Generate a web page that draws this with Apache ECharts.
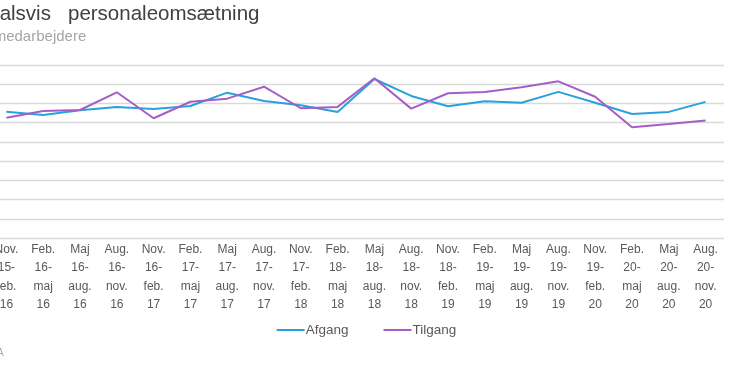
<!DOCTYPE html>
<html>
<head>
<meta charset="utf-8">
<script src="https://cdn.jsdelivr.net/npm/echarts@6/dist/echarts.min.js"></script>
<style>
html,body{margin:0;padding:0;width:730px;height:365px;overflow:hidden;background:#fff;}
#chart{position:absolute;left:-60px;top:0;width:790px;height:365px;}
</style>
</head>
<body>
<div id="chart"></div>
<script>
const titleText = "Kvartalsvis   personaleomsætning";
const subtitleText = "Pct. af medarbejdere";
const sourceText = "Kilde: DA";

const categories = [
  "Nov.\n15-\nfeb.\n16", "Feb.\n16-\nmaj\n16", "Maj\n16-\naug.\n16", "Aug.\n16-\nnov.\n16",
  "Nov.\n16-\nfeb.\n17", "Feb.\n17-\nmaj\n17", "Maj\n17-\naug.\n17", "Aug.\n17-\nnov.\n17",
  "Nov.\n17-\nfeb.\n18", "Feb.\n18-\nmaj\n18", "Maj\n18-\naug.\n18", "Aug.\n18-\nnov.\n18",
  "Nov.\n18-\nfeb.\n19", "Feb.\n19-\nmaj\n19", "Maj\n19-\naug.\n19", "Aug.\n19-\nnov.\n19",
  "Nov.\n19-\nfeb.\n20", "Feb.\n20-\nmaj\n20", "Maj\n20-\naug.\n20", "Aug.\n20-\nnov.\n20"
];

const afgang = [6.57, 6.40, 6.65, 6.82, 6.71, 6.87, 7.56, 7.13, 6.91, 6.56,
                8.27, 7.39, 6.85, 7.11, 7.04, 7.60, 7.04, 6.45, 6.56, 7.08];

const tilgang = [6.26, 6.61, 6.66, 7.58, 6.23, 7.09, 7.25, 7.87, 6.75, 6.82,
                 8.31, 6.73, 7.53, 7.60, 7.84, 8.15, 7.35, 5.76, 5.93, 6.11];

const yMin = 0, yMax = 9, yStep = 1;

const chart = echarts.init(document.getElementById('chart'), null, {renderer: 'canvas'});
const font = '"Liberation Sans", Arial, sans-serif';

chart.setOption({
  animation: false,
  backgroundColor: '#ffffff',
  graphic: [
    {type: 'text', left: 11.8, top: 4, style: {text: titleText, font: '20.5px ' + font, fill: '#404040'}},
    {type: 'text', left: 7, top: 29, style: {text: subtitleText, font: '15px ' + font, fill: '#a6a6a6'}},
    {type: 'text', left: 22, top: 348, style: {text: sourceText, font: '10px ' + font, fill: '#a6a6a6'}}
  ],
  legend: {
    data: ['Afgang', 'Tilgang'],
    left: 336.7,
    top: 323,
    padding: 0,
    icon: 'rect',
    itemWidth: 28,
    itemHeight: 2,
    itemGap: 35,
    textStyle: {fontFamily: font, fontSize: 13.5, color: '#595959', padding: [0, 0, 0, -4]}
  },
  grid: {left: 48, right: 6, top: 65, bottom: 127, containLabel: false},
  xAxis: {
    type: 'category',
    data: categories,
    boundaryGap: true,
    axisLine: {show: false},
    axisTick: {show: false},
    axisLabel: {interval: 0, margin: 2, fontFamily: font, fontSize: 12, color: '#595959', lineHeight: 18.6}
  },
  yAxis: {
    type: 'value',
    min: yMin, max: yMax, interval: yStep,
    axisLine: {show: false},
    axisTick: {show: false},
    axisLabel: {show: false},
    splitLine: {lineStyle: {color: '#d9d9d9', width: 1.3}}
  },
  series: [
    {name: 'Afgang', type: 'line', data: afgang, symbol: 'none', lineStyle: {color: '#29a1db', width: 2}, itemStyle: {color: '#29a1db'}},
    {name: 'Tilgang', type: 'line', data: tilgang, symbol: 'none', lineStyle: {color: '#a55ec8', width: 2}, itemStyle: {color: '#a55ec8'}}
  ]
});
</script>
</body>
</html>
